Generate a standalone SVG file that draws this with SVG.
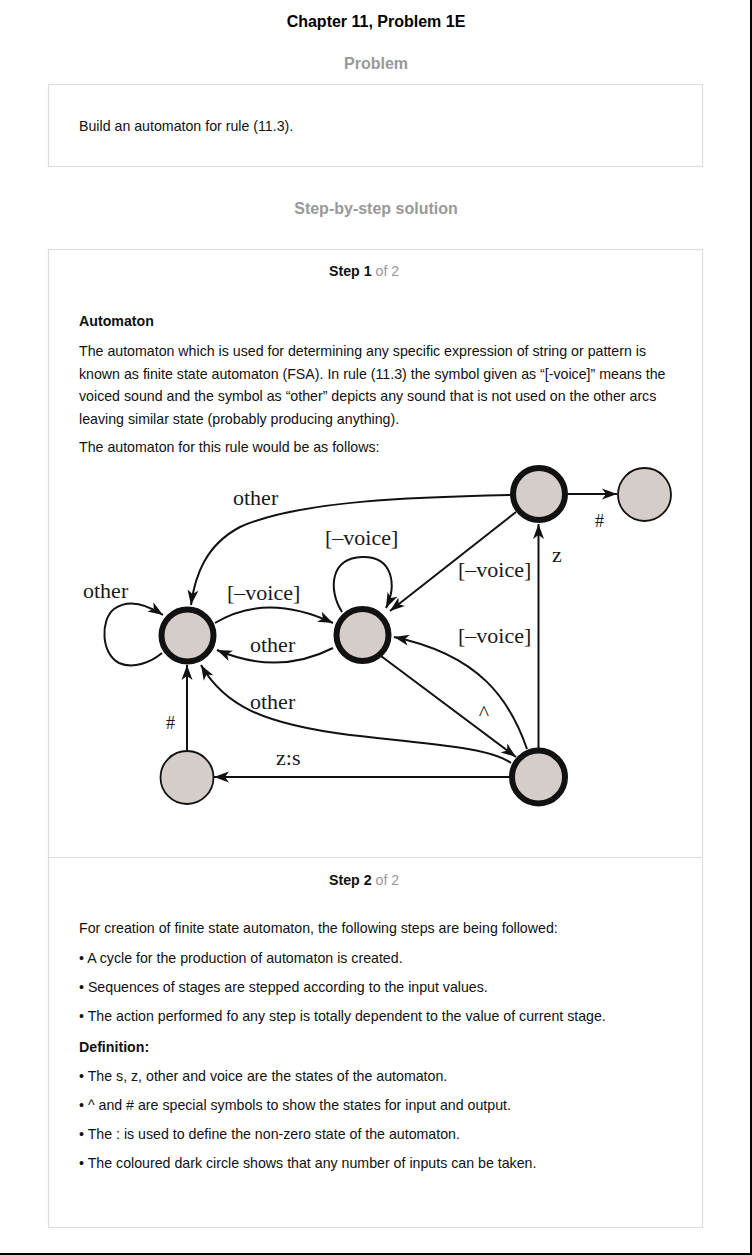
<svg xmlns="http://www.w3.org/2000/svg" width="752" height="1255" viewBox="0 0 752 1255">
<style>
.sans{font-family:"Liberation Sans",Arial,sans-serif;}
.title{font-size:16px;font-weight:bold;fill:#000;}
.head{font-size:16px;font-weight:bold;fill:#999;}
.body{font-size:14.2px;fill:#111;}
.bold{font-weight:bold;}
.gray{fill:#999;font-weight:normal;}
.box{fill:#fff;stroke:#dcdcdc;stroke-width:1.2;}
.lbl{font-family:"Liberation Serif","Times New Roman",serif;font-size:22px;fill:#1a1a1a;}
.edge{fill:none;stroke:#111;stroke-width:2;marker-end:url(#arr);}
.thick{fill:#d4cdc9;stroke:#111;stroke-width:6;}
.thin{fill:#d4cdc9;stroke:#111;stroke-width:1.8;}
</style>
<defs>
<marker id="arr" markerUnits="userSpaceOnUse" markerWidth="16" markerHeight="12" viewBox="0 0 16 12" refX="15" refY="6" orient="auto">
<path d="M0,0.5 L15,6 L0,11.5 L4,6 z" fill="#111"/>
</marker>
</defs>
<rect x="0" y="0" width="752" height="1255" fill="#fff"/>
<rect x="750" y="0" width="2" height="1255" fill="#000"/>
<rect x="0" y="1253" width="752" height="2" fill="#000"/>

<g id="header" class="sans">
<text x="376" y="27" text-anchor="middle" class="title">Chapter 11, Problem 1E</text>
<text x="376" y="69" text-anchor="middle" class="head">Problem</text>
<rect x="48.5" y="84.5" width="654" height="82" class="box"/>
<text x="79" y="131" class="body">Build an automaton for rule (11.3).</text>
<text x="376" y="214" text-anchor="middle" class="head">Step-by-step solution</text>
</g>

<g id="solution" class="sans">
<rect x="48.5" y="249.5" width="654" height="978" class="box"/>
<line x1="48.5" y1="857.5" x2="702.5" y2="857.5" stroke="#dcdcdc" stroke-width="1.2"/>
<text x="329" y="276" class="body bold">Step 1<tspan class="gray"> of 2</tspan></text>
<text x="79" y="326" class="body bold">Automaton</text>
<text x="79" y="356" class="body">The automaton which is used for determining any specific expression of string or pattern is</text>
<text x="79" y="378.5" class="body">known as finite state automaton (FSA). In rule (11.3) the symbol given as “[-voice]” means the</text>
<text x="79" y="401" class="body">voiced sound and the symbol as “other” depicts any sound that is not used on the other arcs</text>
<text x="79" y="423.5" class="body">leaving similar state (probably producing anything).</text>
<text x="79" y="452" class="body">The automaton for this rule would be as follows:</text>

<text x="329" y="885" class="body bold">Step 2<tspan class="gray"> of 2</tspan></text>
<text x="79" y="933" class="body">For creation of finite state automaton, the following steps are being followed:</text>
<text x="79" y="962.5" class="body">• A cycle for the production of automaton is created.</text>
<text x="79" y="991.5" class="body">• Sequences of stages are stepped according to the input values.</text>
<text x="79" y="1021" class="body">• The action performed fo any step is totally dependent to the value of current stage.</text>
<text x="79" y="1052" class="body bold">Definition:</text>
<text x="79" y="1081" class="body">• The s, z, other and voice are the states of the automaton.</text>
<text x="79" y="1110" class="body">• ^ and # are special symbols to show the states for input and output.</text>
<text x="79" y="1139" class="body">• The : is used to define the non-zero state of the automaton.</text>
<text x="79" y="1168" class="body">• The coloured dark circle shows that any number of inputs can be taken.</text>
</g>

<g id="connectors">
<path class="edge" d="M162,653 C150,663 133,669 119,663 C101,654 100,620 114,609 C128,599 146,604 163,615"/>
<path class="edge" d="M215,623 Q266,592 333,623"/>
<path class="edge" d="M333,648 Q278,676 217,650"/>
<path class="edge" d="M510,495 C420,497 300,500 240,527 C206,545 195,575 191,605"/>
<path class="edge" d="M342,612 C328,590 330,558 362,557 C393,556 397,585 386,608"/>
<path class="edge" d="M516,512 L390,611"/>
<path class="edge" d="M527,749 C510,700 480,655 394,637"/>
<path class="edge" d="M381,656 L516,757"/>
<path class="edge" d="M538.5,748 L538.5,524"/>
<path class="edge" d="M568,494 L617,494"/>
<path class="edge" d="M511,763 C490,748 440,745 350,735 C262,724 224,705 201,665"/>
<path class="edge" d="M510,777 L214,777"/>
<path class="edge" d="M187,750 L187,665"/>
</g>

<g id="labels" class="lbl">
<text x="83" y="598">other</text>
<text x="233" y="505">other</text>
<text x="227" y="600">[–voice]</text>
<text x="250" y="652">other</text>
<text x="325" y="545">[–voice]</text>
<text x="458" y="577">[–voice]</text>
<text x="458" y="643">[–voice]</text>
<text x="552" y="562">z</text>
<text x="595" y="527" font-size="18">#</text>
<text x="484" y="720" text-anchor="middle">^</text>
<text x="250" y="709">other</text>
<text x="276" y="765">z:s</text>
<text x="166" y="729" font-size="18">#</text>
</g>

<g id="node-A"><circle cx="187.5" cy="635.5" r="26" class="thick"/></g>
<g id="node-B"><circle cx="362.5" cy="635" r="26" class="thick"/></g>
<g id="node-C"><circle cx="539" cy="494" r="26" class="thick"/></g>
<g id="node-D"><circle cx="644.5" cy="494.5" r="26.5" class="thin"/></g>
<g id="node-E"><circle cx="538.5" cy="777" r="26.5" class="thick"/></g>
<g id="node-F"><circle cx="187" cy="777.5" r="26.5" class="thin"/></g>
</svg>
